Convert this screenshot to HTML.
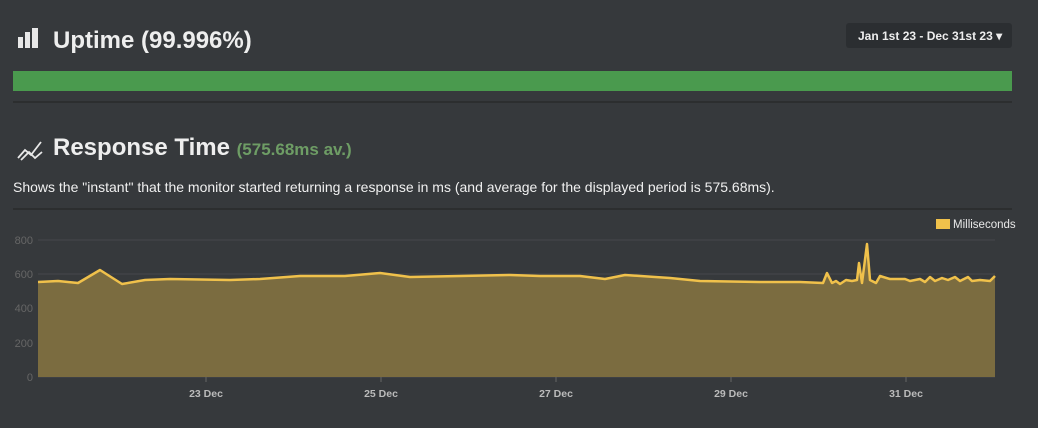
<!DOCTYPE html>
<html><head><meta charset="utf-8"><style>
body{margin:0;width:1038px;height:428px;background:#36393c;font-family:"Liberation Sans",sans-serif;overflow:hidden;position:relative;color:#fff}
.t{position:absolute;font-weight:bold}
</style></head><body>
<svg width="1038" height="428" style="position:absolute;left:0;top:0">
<rect x="18" y="37" width="5" height="11" fill="#e8e8e8"/><rect x="25" y="32" width="5" height="16" fill="#e8e8e8"/><rect x="32" y="28" width="6" height="20" fill="#e8e8e8"/>
<polyline points="18,158 25,150 31,155 41,142" fill="none" stroke="#e8e8e8" stroke-width="1.8"/>
<polyline points="21,160 29,152 35,158 42,152" fill="none" stroke="#e8e8e8" stroke-width="1.8"/>
<rect x="846" y="23" width="166" height="25" rx="3" fill="#2b2e31"/>
<rect x="13" y="71" width="999" height="20" fill="#4a9a4e"/>
<line x1="13" y1="102" x2="1012" y2="102" stroke="#222" stroke-width="1"/>
<line x1="13" y1="209" x2="1012" y2="209" stroke="#222" stroke-width="1"/>
<g stroke="#45484b" stroke-width="1"><line x1="38" y1="240" x2="995" y2="240"/><line x1="38" y1="274" x2="995" y2="274"/><line x1="38" y1="308" x2="995" y2="308"/><line x1="38" y1="343" x2="995" y2="343"/><line x1="38" y1="377" x2="995" y2="377"/></g>
<g stroke="#666" stroke-width="1"><line x1="206" y1="377" x2="206" y2="382"/><line x1="381" y1="377" x2="381" y2="382"/><line x1="556" y1="377" x2="556" y2="382"/><line x1="731" y1="377" x2="731" y2="382"/><line x1="906" y1="377" x2="906" y2="382"/></g>
<polygon fill="#7b6c40" points="38,377 38,282 58,281 78,283 100,270 122,284 145,280 170,279 230,280 260,279 300,276 345,276 380,273 410,277 460,276 510,275 540,276 580,276 605,279 625,275 670,278 700,281 760,282 800,282 823,283 827,273 832,283 836,281 840,284 846,280 852,281 857,280 859,263 862,283 867,244 870,280 876,283 880,276 890,279 905,279 910,281 920,279 925,282 930,277 935,281 942,278 948,280 955,277 960,281 968,277 972,281 980,280 990,281 995,276 995,377"/>
<polyline fill="none" stroke="#f0c14b" stroke-width="2.5" stroke-linejoin="round" points="38,282 58,281 78,283 100,270 122,284 145,280 170,279 230,280 260,279 300,276 345,276 380,273 410,277 460,276 510,275 540,276 580,276 605,279 625,275 670,278 700,281 760,282 800,282 823,283 827,273 832,283 836,281 840,284 846,280 852,281 857,280 859,263 862,283 867,244 870,280 876,283 880,276 890,279 905,279 910,281 920,279 925,282 930,277 935,281 942,278 948,280 955,277 960,281 968,277 972,281 980,280 990,281 995,276"/>
<rect x="936" y="219" width="14" height="10" fill="#f0c14b"/>
<g fill="#666" font-size="11" text-anchor="end"><text x="33" y="244">800</text><text x="33" y="278">600</text><text x="33" y="312">400</text><text x="33" y="347">200</text><text x="33" y="381">0</text></g>
<g fill="#bbb" font-size="10.5" font-weight="bold" text-anchor="middle"><text x="206" y="397">23 Dec</text><text x="381" y="397">25 Dec</text><text x="556" y="397">27 Dec</text><text x="731" y="397">29 Dec</text><text x="906" y="397">31 Dec</text></g>
<text x="953" y="228" fill="#e8e8e8" font-size="11.5">Milliseconds</text>
</svg>
<div class="t" style="left:53px;top:27px;font-size:24px;color:#eee">Uptime (99.996%)</div>
<div class="t" style="left:858px;top:29px;font-size:12px;color:#eee">Jan 1st 23 - Dec 31st 23 ▾</div>
<div class="t" style="left:53px;top:134px;font-size:24px;color:#eee">Response Time <span style="font-size:17px;color:#6e9d65">(575.68ms av.)</span></div>
<div style="position:absolute;left:13px;top:179px;font-size:14px;color:#f0f0f0">Shows the "instant" that the monitor started returning a response in ms (and average for the displayed period is 575.68ms).</div>
</body></html>
